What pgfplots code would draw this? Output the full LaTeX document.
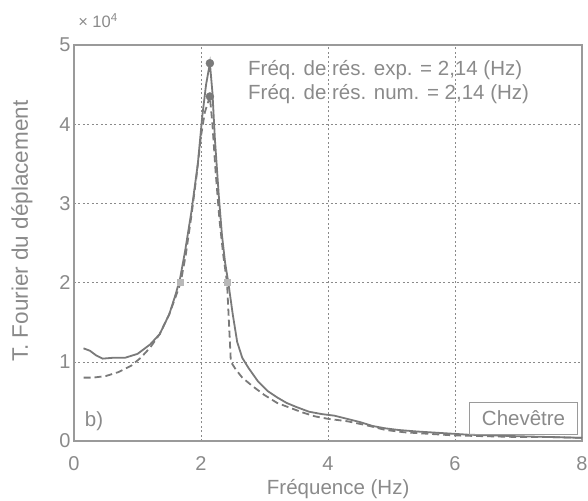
\documentclass[border=0pt]{standalone}
\usepackage{pgfplots}
\pgfplotsset{compat=1.18}
\usepackage{fontspec}
\setmainfont{Liberation Sans}
\definecolor{txt}{HTML}{8A8A8A}
\definecolor{ln}{HTML}{7A7A7A}
\definecolor{ax}{HTML}{9A9A9A}
\begin{document}
\begin{tikzpicture}[x=1pt,y=1pt]
\path[use as bounding box] (-74,-59) rectangle (514,441);
\begin{axis}[
  at={(0,0)}, anchor=south west,
  scale only axis, width=508pt, height=396pt,
  xmin=0, xmax=8, ymin=0, ymax=5,
  xtick={0,2,4,6,8}, ytick={0,1,2,3,4,5},
  axis line style={ax, line width=1.3pt},
  tick style={draw=none},
  grid=major,
  major grid style={txt, line width=0.6pt, dash pattern=on 2pt off 2.5pt},
  tick label style={font=\fontsize{20}{22}\selectfont, text=txt},
  /pgf/number format/assume math mode=true,
  xticklabel style={anchor=base, yshift=-29pt},
  xlabel={Fréquence (Hz)},
  ylabel={T. Fourier du déplacement},
  every axis x label/.style={at={(axis description cs:0.52,0)}, anchor=base, yshift=-53pt, text=txt, font=\fontsize{20.5}{22}\selectfont},
  every axis y label/.style={at={([xshift=-52pt]axis description cs:0,0.53)}, anchor=center, rotate=90, text=txt, font=\fontsize{22.5}{24}\selectfont},
  clip=false,
]
\addplot[ln, line width=1.8pt] coordinates {
(0.15,1.17)(0.25,1.14)(0.35,1.08)(0.45,1.04)(0.6,1.05)(0.8,1.05)(1.0,1.10)(1.2,1.22)(1.35,1.35)(1.5,1.60)(1.6,1.85)(1.67,2.05)(1.75,2.4)(1.85,2.9)(1.95,3.5)(2.02,4.1)(2.08,4.5)(2.14,4.77)(2.18,4.4)(2.22,3.8)(2.28,3.1)(2.33,2.6)(2.38,2.25)(2.43,2.0)(2.5,1.6)(2.57,1.25)(2.65,1.05)(2.75,0.92)(2.9,0.75)(3.05,0.63)(3.2,0.55)(3.35,0.48)(3.5,0.43)(3.7,0.37)(3.9,0.34)(4.1,0.32)(4.3,0.28)(4.5,0.24)(4.7,0.19)(4.9,0.16)(5.1,0.14)(5.4,0.12)(5.8,0.10)(6.2,0.08)(6.6,0.07)(7.0,0.06)(7.5,0.05)(8.0,0.04)
};
\addplot[ln, line width=1.8pt, dash pattern=on 7pt off 4pt] coordinates {
(0.15,0.80)(0.3,0.80)(0.5,0.82)(0.7,0.87)(0.9,0.95)(1.05,1.05)(1.2,1.18)(1.35,1.35)(1.5,1.60)(1.6,1.82)(1.68,2.0)(1.76,2.35)(1.85,2.85)(1.93,3.35)(2.0,3.85)(2.06,4.15)(2.14,4.35)(2.18,4.0)(2.23,3.4)(2.29,2.8)(2.35,2.35)(2.41,2.0)(2.44,1.5)(2.47,1.0)(2.55,0.9)(2.65,0.8)(2.8,0.7)(3.0,0.58)(3.2,0.48)(3.4,0.42)(3.6,0.36)(3.8,0.31)(4.0,0.28)(4.3,0.25)(4.6,0.2)(4.9,0.14)(5.2,0.11)(5.6,0.09)(6.0,0.07)(6.5,0.06)(7.0,0.05)(7.5,0.05)(8.0,0.04)
};
\addplot[only marks, mark=*, mark size=4pt, ln] coordinates {(2.14,4.77)(2.14,4.35)};
\addplot[only marks, mark=square*, mark size=3pt, ax!70] coordinates {(1.67,2.0)(2.42,2.0)};
\node[anchor=base west, inner sep=0pt, text=txt, font=\fontsize{20.5}{22}\selectfont] at (axis cs:2.74,4.62) {Fréq. de rés. exp. = 2,14 (Hz)};
\node[anchor=base west, inner sep=0pt, text=txt, font=\fontsize{20.5}{22}\selectfont] at (axis cs:2.74,4.31) {Fréq. de rés. num. = 2,14 (Hz)};
\node[anchor=base west, inner sep=0pt, text=txt, font=\fontsize{20.5}{22}\selectfont] at (axis cs:0.17,0.18) {b)};
\node[anchor=south east, draw=ax, line width=1.3pt, text=txt, font=\fontsize{20.5}{22}\selectfont, minimum width=108pt, minimum height=32pt, inner sep=0pt] at (axis cs:7.94,0.076) {Chevêtre};
\node[anchor=base west, inner sep=0pt, text=txt, font=\fontsize{16.5}{18}\selectfont] at ([yshift=17pt]rel axis cs:0.008,1) {× 10\textsuperscript{4}};
\end{axis}
\end{tikzpicture}
\end{document}
